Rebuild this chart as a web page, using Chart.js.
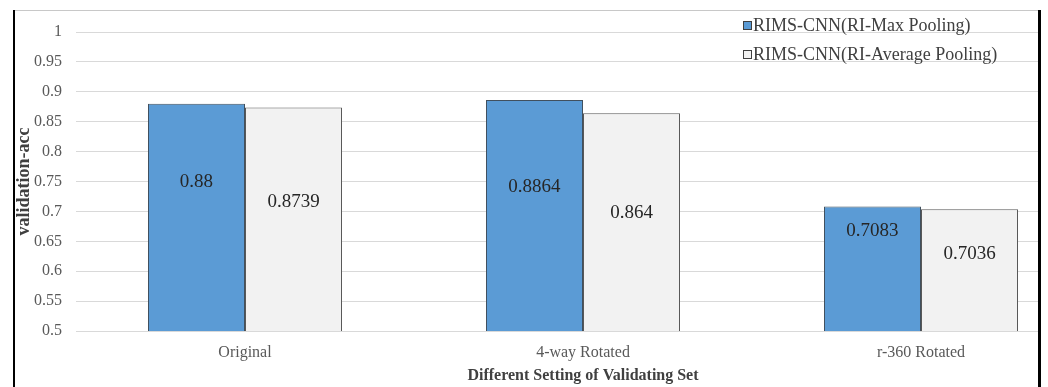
<!DOCTYPE html>
<html>
<head>
<meta charset="utf-8">
<title>validation-acc</title>
<script src="https://cdn.jsdelivr.net/npm/chart.js@4.4.1/dist/chart.umd.min.js"></script>
<style>
  html, body { margin: 0; padding: 0; background: #fff; }
  body { width: 1048px; height: 387px; overflow: hidden; position: relative; font-family: "Liberation Serif", "Times New Roman", serif; }
  #wrap { position: absolute; left: 0; top: 0; width: 1100px; height: 387px; }
  .line { position: absolute; }
  .legend { position: absolute; left: 743px; font-size: 18px; color: #404040; white-space: nowrap; line-height: 20px; }
  .legend .sw { display: inline-block; width: 7px; height: 7px; border: 1px solid #404040; margin-right: 1px; vertical-align: 1px; }
</style>
</head>
<body>
<div id="wrap"><canvas id="c" width="1100" height="387"></canvas></div>
<!-- frame -->
<div class="line" style="left:13px;top:10px;width:2px;height:377px;background:#000"></div>
<div class="line" style="left:15px;top:10px;width:1023px;height:1px;background:#c8c8c8"></div>
<div class="line" style="left:1038px;top:10px;width:3px;height:377px;background:#000"></div>
<div class="line" style="left:1041px;top:0;width:7px;height:387px;background:#fff"></div>
<!-- legend -->
<div class="legend" style="top:15px"><span class="sw" style="background:#5B9BD5"></span>RIMS-CNN(RI-Max Pooling)</div>
<div class="legend" style="top:44px"><span class="sw" style="background:#F2F2F2"></span>RIMS-CNN(RI-Average Pooling)</div>
<script>
const categories = ["Original", "4-way Rotated", "r-360 Rotated"];
const seriesNames = ["RIMS-CNN(RI-Max Pooling)", "RIMS-CNN(RI-Average Pooling)"];
const maxPooling = [0.88, 0.8864, 0.7083];
const avgPooling = [0.8739, 0.864, 0.7036];
const yMin = 0.5, yMax = 1, yStep = 0.05;

// distance (px) from each bar's top down to the centre of its value label
const labelDrop = [[78, 87, 25], [95, 100, 45]];

const SERIF = '"Liberation Serif", "Times New Roman", serif';

const valueLabels = {
  id: 'valueLabels',
  afterDatasetsDraw(chart) {
    const ctx = chart.ctx;
    ctx.save();
    ctx.font = '19px ' + SERIF;
    ctx.fillStyle = '#262626';
    ctx.textAlign = 'center';
    ctx.textBaseline = 'middle';
    chart.data.datasets.forEach((ds, di) => {
      chart.getDatasetMeta(di).data.forEach((bar, i) => {
        ctx.fillText(String(ds.data[i]), bar.x, bar.y + labelDrop[di][i]);
      });
    });
    ctx.restore();
  }
};

new Chart(document.getElementById('c'), {
  type: 'bar',
  data: {
    labels: categories,
    datasets: [
      { label: seriesNames[0], data: maxPooling, backgroundColor: '#5B9BD5', borderColor: '#41505e', borderWidth: 1 },
      { label: seriesNames[1], data: avgPooling, backgroundColor: '#F2F2F2', borderColor: '#595959', borderWidth: 1 }
    ]
  },
  options: {
    responsive: false,
    animation: false,
    devicePixelRatio: 1,
    layout: { padding: { left: 0, top: 32, right: 10, bottom: 0 } },
    categoryPercentage: 0.574,
    barPercentage: 1,
    plugins: { legend: { display: false }, tooltip: { enabled: false } },
    scales: {
      x: {
        grid: { display: false, drawTicks: false },
        border: { display: true, color: '#d9d9d9', width: 1 },
        ticks: { color: '#595959', font: { family: SERIF, size: 16 }, padding: 12 },
        title: { display: true, text: 'Different Setting of Validating Set', color: '#404040',
                 font: { family: SERIF, size: 16, weight: 'bold' }, padding: { top: 2, bottom: 2 } },
        afterFit(s) { s.height = 56; }
      },
      y: {
        min: yMin, max: yMax,
        grid: { color: '#d9d9d9', drawTicks: false },
        border: { display: false },
        ticks: { stepSize: yStep, color: '#595959', font: { family: SERIF, size: 16 }, padding: 14,
                 callback: v => String(+v.toFixed(2)) },
        title: { display: true, text: 'validation-acc', color: '#404040',
                 font: { family: SERIF, size: 18, weight: 'bold' }, padding: { top: 14, bottom: 0 } },
        afterFit(s) { s.width = 76; }
      }
    }
  },
  plugins: [valueLabels]
});
</script>
</body>
</html>
